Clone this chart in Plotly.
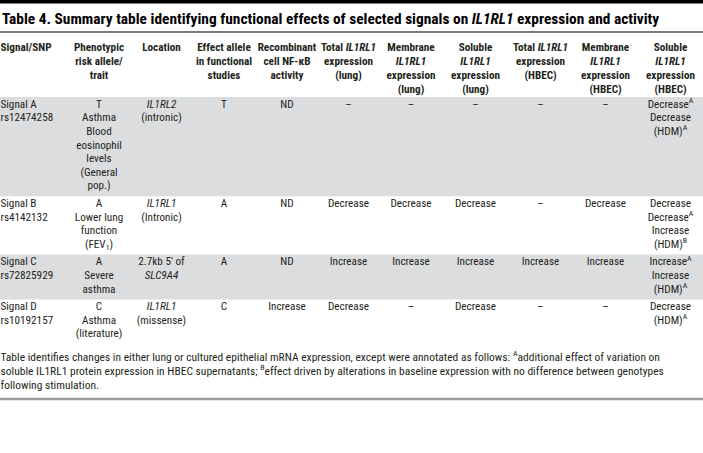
import plotly.graph_objects as go

# ---------------- data ----------------
title_text = ("Table 4. Summary table identifying functional effects of selected signals on "
              "<i>IL1RL1</i> expression and activity")

header_labels = [
    "Signal/SNP",
    "Phenotypic<br>risk allele/<br>trait",
    "Location",
    "Effect allele<br>in functional<br>studies",
    "Recombinant<br>cell NF-κB<br>activity",
    "Total <i>IL1RL1</i><br>expression<br>(lung)",
    "Membrane<br><i>IL1RL1</i><br>expression<br>(lung)",
    "Soluble<br><i>IL1RL1</i><br>expression<br>(lung)",
    "Total <i>IL1RL1</i><br>expression<br>(HBEC)",
    "Membrane<br><i>IL1RL1</i><br>expression<br>(HBEC)",
    "Soluble<br><i>IL1RL1</i><br>expression<br>(HBEC)",
]

signal_snp = ["Signal A<br>rs12474258", "Signal B<br>rs4142132",
              "Signal C<br>rs72825929", "Signal D<br>rs10192157"]
risk_allele_trait = ["T<br>Asthma<br>Blood<br>eosinophil<br>levels<br>(General<br>pop.)",
                     "A<br>Lower lung<br>function<br>(FEV<sub>1</sub>)",
                     "A<br>Severe<br>asthma",
                     "C<br>Asthma<br>(literature)"]
location = ["<i>IL1RL2</i><br>(intronic)", "<i>IL1RL1</i><br>(Intronic)",
            "2.7kb 5′ of<br><i>SLC9A4</i>", "<i>IL1RL1</i><br>(missense)"]
effect_allele = ["T", "A", "A", "C"]
nfkb_activity = ["ND", "ND", "ND", "Increase"]
total_lung = ["–", "Decrease", "Increase", "Decrease"]
membrane_lung = ["–", "Decrease", "Increase", "–"]
soluble_lung = ["–", "Decrease", "Increase", "Decrease"]
total_hbec = ["–", "–", "Increase", "–"]
membrane_hbec = ["–", "Decrease", "Increase", "–"]
soluble_hbec = ["Decrease<sup>A</sup><br>Decrease<br>(HDM)<sup>A</sup>",
                "Decrease<br>Decrease<sup>A</sup><br>Increase<br>(HDM)<sup>B</sup>",
                "Increase<sup>A</sup><br>Increase<br>(HDM)<sup>A</sup>",
                "Decrease<br>(HDM)<sup>A</sup>"]

footnote_lines = [
    "Table identifies changes in either lung or cultured epithelial mRNA expression, except were "
    "annotated as follows: <sup>A</sup>additional effect of variation on",
    "soluble IL1RL1 protein expression in HBEC supernatants; <sup>B</sup>effect driven by "
    "alterations in baseline expression with no difference between genotypes",
    "following stimulation.",
]

body_columns = [signal_snp, risk_allele_trait, location, effect_allele, nfkb_activity,
                total_lung, membrane_lung, soluble_lung, total_hbec, membrane_hbec, soluble_hbec]

# ---------------- layout / style ----------------
W, H = 703, 453
col_widths = [67, 64, 61, 64, 62, 61, 64, 65, 65, 65, 65]
FONT = "Roboto Condensed, Roboto, sans-serif"
FS = 11.2
FOOT_FS = 11.5
LINE = 13.6      # body line pitch (px)
HLINE = 14.0     # header / footnote line pitch (px)
TEXT = "#231f20"
BAND = "#dcdddf"
LEFT_X = 0.5

col_left = [sum(col_widths[:i]) for i in range(len(col_widths))]
col_center = [col_left[i] + col_widths[i] / 2 for i in range(len(col_widths))]

def lines_of(s):
    return s.split("<br>")

header_rule = 32
header_first = 48.5
header_bottom = 97
row_lines = [max(len(lines_of(col[r])) for col in body_columns) for r in range(len(signal_snp))]
row_tops = []
y = header_bottom
for n in row_lines:
    row_tops.append(y)
    y += n * LINE + 4
table_bottom = y

fig = go.Figure()

def add_text(xs, ys, texts, left, size=FS, color=TEXT):
    fig.add_trace(go.Scatter(
        x=xs, y=ys, text=texts, mode="text",
        textposition="middle right" if left else "middle center",
        textfont=dict(family=FONT, size=size, color=color),
        hoverinfo="skip", showlegend=False, cliponaxis=False))

# header
for c, lab in enumerate(header_labels):
    left = c == 0
    ls = lines_of(lab)
    xs = [(col_left[c] + LEFT_X) if left else col_center[c]] * len(ls)
    ys = [header_first + k * HLINE for k in range(len(ls))]
    add_text(xs, ys, ["<b>" + t + "</b>" for t in ls], left)

# body
for c, col in enumerate(body_columns):
    left = c == 0
    xs, ys, ts = [], [], []
    for r, cell in enumerate(col):
        for k, t in enumerate(lines_of(cell)):
            xs.append((col_left[c] + LEFT_X) if left else col_center[c])
            ys.append(row_tops[r] + 8 + k * LINE)
            ts.append(t)
    add_text(xs, ys, ts, left)

# footnote
add_text([LEFT_X] * len(footnote_lines),
         [table_bottom + 14 + k * HLINE for k in range(len(footnote_lines))],
         footnote_lines, True, size=FOOT_FS)

shapes = []
shapes.append(dict(type="rect", xref="x", yref="y", x0=0, x1=W, y0=0, y1=3.5,
                   fillcolor="#000000", line=dict(width=0), layer="below"))
shapes.append(dict(type="line", xref="x", yref="y", x0=0, x1=W, y0=header_rule, y1=header_rule,
                   line=dict(color="#4d4d4d", width=1.3)))
for r, top in enumerate(row_tops):
    if r % 2 == 0:
        shapes.append(dict(type="rect", xref="x", yref="y", x0=0, x1=W,
                           y0=top, y1=top + row_lines[r] * LINE + 4,
                           fillcolor=BAND, line=dict(width=0), layer="below"))
shapes.append(dict(type="line", xref="x", yref="y", x0=0, x1=W, y0=399, y1=399,
                   line=dict(color="#9a9a9a", width=2.5)))

annotations = [dict(x=1, y=19, xref="x", yref="y", text="<b>" + title_text + "</b>",
                    showarrow=False, xanchor="left", yanchor="middle", align="left",
                    borderpad=0, font=dict(family=FONT, size=15.4, color="#000000"))]

fig.update_layout(
    width=W, height=H, margin=dict(l=0, r=0, t=0, b=0),
    paper_bgcolor="white", plot_bgcolor="white",
    xaxis=dict(range=[0, W], visible=False, fixedrange=True),
    yaxis=dict(range=[H, 0], visible=False, fixedrange=True),
    shapes=shapes, annotations=annotations, showlegend=False,
)

fig.write_html("out.html", config={"displayModeBar": False},
               post_script="document.body.style.margin='0';")
